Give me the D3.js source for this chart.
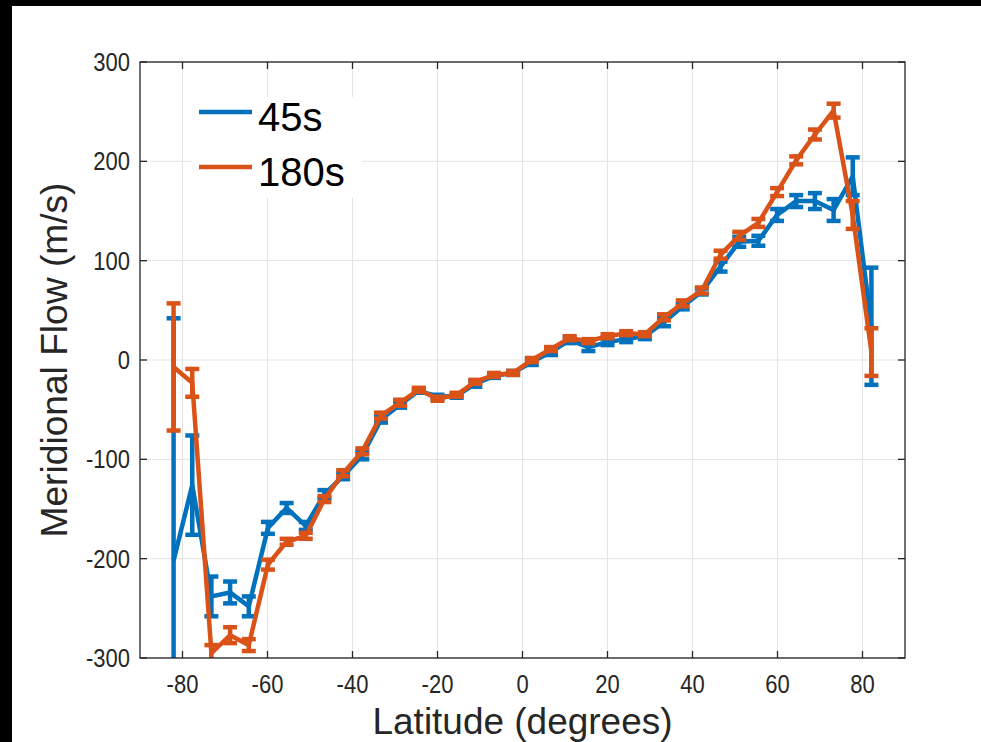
<!DOCTYPE html>
<html>
<head>
<meta charset="utf-8">
<script src="https://cdn.jsdelivr.net/npm/d3@7"></script>
<style>
  html, body { margin: 0; padding: 0; background: #000; }
  svg { display: block; }
  text { font-family: "Liberation Sans", Arial, Helvetica, sans-serif; }
</style>
</head>
<body>
<svg id="chart" width="981" height="742"></svg>
<script>
// latitude bins (degrees)
const lat = [-82.1, -77.7, -73.2, -68.8, -64.4, -59.9, -55.5, -51.0, -46.6, -42.2,
             -37.7, -33.3, -28.8, -24.4, -20.0, -15.5, -11.1, -6.7, -2.2, 2.2,
             6.7, 11.1, 15.5, 20.0, 24.4, 28.8, 33.3, 37.7, 42.2, 46.6,
             51.0, 55.5, 59.9, 64.4, 68.8, 73.2, 77.7, 82.1];

// 45s series: flow and error
const flow45 = [-202, -126, -238, -234, -248, -169, -149, -167, -135, -117,
                -96, -60, -45, -31, -37, -36, -24, -16, -13, -2,
                8, 20, 13, 18, 21, 24, 38, 54, 69, 94,
                119, 120, 146, 160, 160, 151, 185, 34];
const err45 = [244, 50, 20, 11, 10, 6, 5, 4, 4, 3,
               4, 3, 3, 2, 2, 2, 3, 2, 2, 3,
               3, 3, 4, 3, 3, 3, 4, 3, 3, 5,
               5, 5, 6, 6, 8, 11, 19, 59];

// 180s series: flow and error
const flow180 = [-7, -23, -295, -277, -287, -206, -183, -177, -140, -114,
                 -92, -56, -43, -30, -39, -35, -22, -15, -13, 0,
                 11, 22, 19, 24, 27, 26, 43, 57, 70, 106,
                 125, 138, 169, 201, 227, 251, 146, 8];
const err180 = [64, 14, 8, 8, 6, 5, 3, 3, 3, 3,
                3, 3, 3, 2, 2, 2, 2, 2, 2, 2,
                2, 2, 2, 2, 2, 2, 3, 3, 3, 4,
                4, 4, 4, 4, 5, 7, 14, 24];

const xTicks = [-80, -60, -40, -20, 0, 20, 40, 60, 80];
const yTicks = [-300, -200, -100, 0, 100, 200, 300];
const seriesNames = ["45s", "180s"];
const seriesColors = ["#0072BD", "#D95319"];

const svg = d3.select("#chart");
const W = 981, H = 742;
const m = { left: 140, right: 905, top: 62, bottom: 658 };

// white figure area over black
svg.append("rect").attr("x", 12).attr("y", 6).attr("width", W - 12).attr("height", H - 6).attr("fill", "#fff");

const x = d3.scaleLinear().domain([-90, 90]).range([m.left, m.right]);
const y = d3.scaleLinear().domain([-300, 300]).range([m.bottom, m.top]);

const axisColor = "#262626";

// grid
const grid = svg.append("g");
grid.selectAll("line.gx").data(xTicks).enter().append("line")
    .attr("x1", d => x(d)).attr("x2", d => x(d))
    .attr("y1", m.top).attr("y2", m.bottom)
    .attr("stroke", "#e3e3e3").attr("stroke-width", 1);
grid.selectAll("line.gy").data(yTicks).enter().append("line")
    .attr("x1", m.left).attr("x2", m.right)
    .attr("y1", d => y(d)).attr("y2", d => y(d))
    .attr("stroke", "#e3e3e3").attr("stroke-width", 1);

// data
svg.append("clipPath").attr("id", "plotclip")
    .append("rect").attr("x", m.left).attr("y", m.top)
    .attr("width", m.right - m.left).attr("height", m.bottom - m.top);

const dataG = svg.append("g").attr("clip-path", "url(#plotclip)");
const capW = 7;

function drawSeries(vals, errs, color) {
    const pts = lat.map((d, i) => ({ lat: d, v: vals[i], e: errs[i] }));
    const g = dataG.append("g");
    const line = d3.line().x(d => x(d.lat)).y(d => y(d.v));
    g.append("path").datum(pts)
        .attr("d", line)
        .attr("fill", "none")
        .attr("stroke", color)
        .attr("stroke-width", 4.5)
        .attr("stroke-linejoin", "miter");
    const eb = g.selectAll("g.eb").data(pts).enter().append("g")
        .attr("stroke", color).attr("stroke-width", 4.5);
    eb.append("line")
        .attr("x1", d => x(d.lat)).attr("x2", d => x(d.lat))
        .attr("y1", d => y(d.v - d.e)).attr("y2", d => y(d.v + d.e));
    eb.append("line")
        .attr("x1", d => x(d.lat) - capW).attr("x2", d => x(d.lat) + capW)
        .attr("y1", d => y(d.v - d.e)).attr("y2", d => y(d.v - d.e));
    eb.append("line")
        .attr("x1", d => x(d.lat) - capW).attr("x2", d => x(d.lat) + capW)
        .attr("y1", d => y(d.v + d.e)).attr("y2", d => y(d.v + d.e));
}

drawSeries(flow45, err45, seriesColors[0]);
drawSeries(flow180, err180, seriesColors[1]);

// axes box and ticks
const axG = svg.append("g");
axG.append("rect")
    .attr("x", m.left).attr("y", m.top)
    .attr("width", m.right - m.left).attr("height", m.bottom - m.top)
    .attr("fill", "none").attr("stroke", axisColor).attr("stroke-width", 1.3);

const tl = 7;
axG.selectAll("line.tb").data(xTicks).enter().append("line")
    .attr("x1", d => x(d)).attr("x2", d => x(d))
    .attr("y1", m.bottom).attr("y2", m.bottom - tl)
    .attr("stroke", axisColor).attr("stroke-width", 1.3);
axG.selectAll("line.tt").data(xTicks).enter().append("line")
    .attr("x1", d => x(d)).attr("x2", d => x(d))
    .attr("y1", m.top).attr("y2", m.top + tl)
    .attr("stroke", axisColor).attr("stroke-width", 1.3);
axG.selectAll("line.tl").data(yTicks).enter().append("line")
    .attr("x1", m.left).attr("x2", m.left + tl)
    .attr("y1", d => y(d)).attr("y2", d => y(d))
    .attr("stroke", axisColor).attr("stroke-width", 1.3);
axG.selectAll("line.tr").data(yTicks).enter().append("line")
    .attr("x1", m.right).attr("x2", m.right - tl)
    .attr("y1", d => y(d)).attr("y2", d => y(d))
    .attr("stroke", axisColor).attr("stroke-width", 1.3);

function squeeze(sel, k) {
    sel.each(function () {
        const len = this.getComputedTextLength();
        d3.select(this).attr("textLength", len * k).attr("lengthAdjust", "spacingAndGlyphs");
    });
}

const xl = axG.selectAll("text.xt").data(xTicks).enter().append("text")
    .attr("x", d => x(d)).attr("y", 693)
    .attr("text-anchor", "middle")
    .attr("font-size", 25).attr("fill", axisColor)
    .text(d => d);
squeeze(xl, 0.88);

const yl = axG.selectAll("text.yt").data(yTicks).enter().append("text")
    .attr("x", 130).attr("y", d => y(d) + 9)
    .attr("text-anchor", "end")
    .attr("font-size", 25).attr("fill", axisColor)
    .text(d => d);
squeeze(yl, 0.88);

// axis titles
svg.append("text")
    .attr("transform", "translate(67," + (m.top + m.bottom) / 2 + ") rotate(-90)")
    .attr("text-anchor", "middle")
    .attr("font-size", 36).attr("fill", axisColor)
    .attr("textLength", 355).attr("lengthAdjust", "spacingAndGlyphs")
    .text("Meridional Flow (m/s)");

svg.append("text")
    .attr("x", (m.left + m.right) / 2).attr("y", 734)
    .attr("text-anchor", "middle")
    .attr("font-size", 36).attr("fill", axisColor)
    .attr("textLength", 300).attr("lengthAdjust", "spacingAndGlyphs")
    .text("Latitude (degrees)");

// legend
const lg = svg.append("g");
lg.append("rect").attr("x", 192).attr("y", 97).attr("width", 170).attr("height", 101).attr("fill", "#fff");
const items = lg.selectAll("g.item").data(seriesNames).enter().append("g")
    .attr("transform", (d, i) => "translate(0," + (112 + i * 55) + ")");
items.append("line")
    .attr("x1", 199).attr("x2", 252).attr("y1", 0).attr("y2", 0)
    .attr("stroke", (d, i) => seriesColors[i]).attr("stroke-width", 4.5);
items.append("text")
    .attr("x", 258).attr("y", 19)
    .attr("font-size", 40).attr("fill", "#000")
    .text(d => d);
</script>
</body>
</html>
